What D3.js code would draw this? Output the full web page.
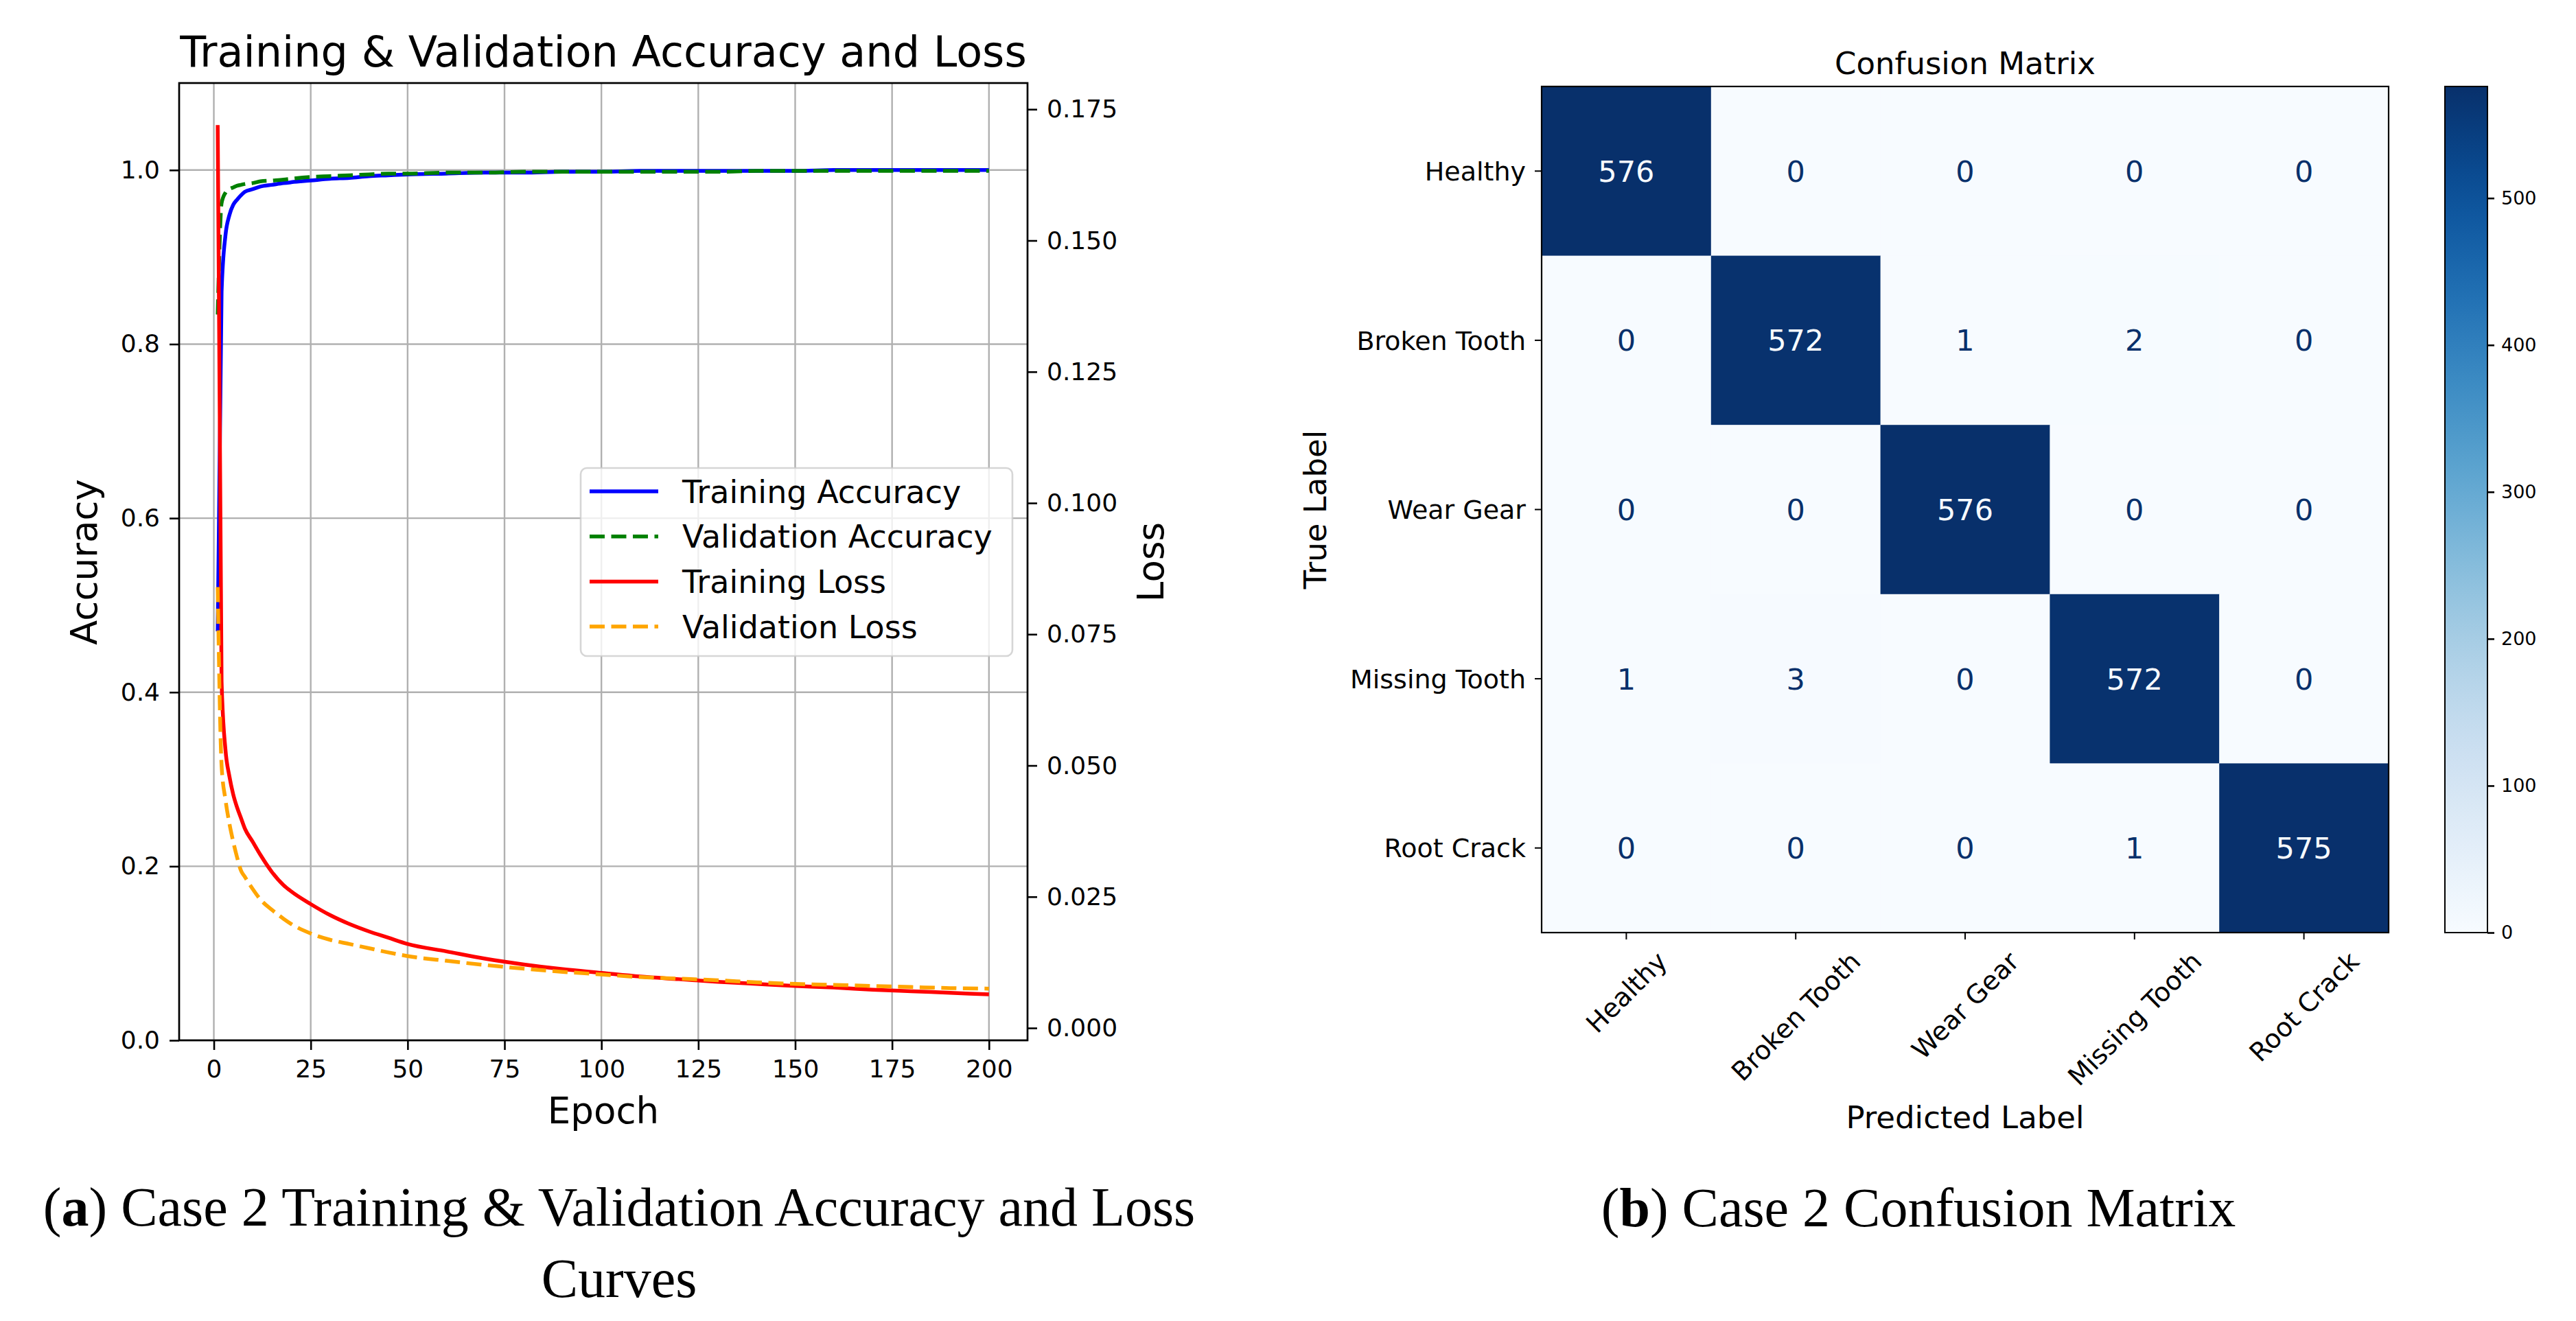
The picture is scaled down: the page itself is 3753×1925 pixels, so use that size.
<!DOCTYPE html>
<html>
<head>
<meta charset="utf-8">
<script src="https://cdn.jsdelivr.net/npm/d3@7"></script>
<style>
  body { margin: 0; background: #fff; }
  svg text { font-family: "DejaVu Sans", sans-serif; fill: #000; }
  svg text.cap { font-family: "Liberation Serif", serif; }
</style>
</head>
<body>
<svg id="fig" width="3753" height="1925"></svg>
<script>
// ---- data ----
const epochs    = [1, 2, 3, 4, 5, 6, 7, 8, 10, 12, 15, 18, 20, 25, 30, 35, 40, 45, 50, 60, 70, 80, 90, 100, 110, 120, 130, 140, 150, 160, 170, 180, 190, 200];
const trainAcc  = [0.47, 0.86, 0.925, 0.948, 0.960, 0.966, 0.971, 0.975, 0.978, 0.981, 0.983, 0.985, 0.986, 0.988, 0.990, 0.991, 0.993, 0.994, 0.995, 0.996, 0.997, 0.997, 0.998, 0.998, 0.999, 0.999, 0.999, 0.999, 0.999, 1.0, 1.0, 1.0, 1.0, 1.0];
const valAcc    = [0.834, 0.962, 0.974, 0.978, 0.980, 0.982, 0.983, 0.984, 0.985, 0.987, 0.988, 0.989, 0.990, 0.992, 0.993, 0.994, 0.995, 0.996, 0.996, 0.997, 0.997, 0.998, 0.998, 0.998, 0.998, 0.998, 0.998, 0.999, 0.999, 0.999, 0.999, 0.999, 0.999, 0.999];
const trainLoss = [0.172, 0.066, 0.053, 0.048, 0.0445, 0.042, 0.040, 0.038, 0.0355, 0.0330, 0.0297, 0.0272, 0.0260, 0.0236, 0.0215, 0.0198, 0.0184, 0.0172, 0.0160, 0.0146, 0.0132, 0.0121, 0.0112, 0.0105, 0.0098, 0.0093, 0.0088, 0.0084, 0.0080, 0.0077, 0.0073, 0.0070, 0.0067, 0.0064];
const valLoss   = [0.084, 0.050, 0.0435, 0.039, 0.0355, 0.0325, 0.0300, 0.0288, 0.0265, 0.0245, 0.0225, 0.0208, 0.0198, 0.0180, 0.0168, 0.0160, 0.0152, 0.0144, 0.0137, 0.0128, 0.0120, 0.0113, 0.0107, 0.0102, 0.0097, 0.0094, 0.0091, 0.0087, 0.0084, 0.0082, 0.0080, 0.0078, 0.0076, 0.0075];

const epochTicks = [0, 25, 50, 75, 100, 125, 150, 175, 200];
const accTicks   = [0, 0.2, 0.4, 0.6, 0.8, 1.0];
const lossTicks  = [0, 0.025, 0.05, 0.075, 0.1, 0.125, 0.15, 0.175];

const classes   = ["Healthy", "Broken Tooth", "Wear Gear", "Missing Tooth", "Root Crack"];
const confusion = [
  [576, 0, 0, 0, 0],
  [0, 572, 1, 2, 0],
  [0, 0, 576, 0, 0],
  [1, 3, 0, 572, 0],
  [0, 0, 0, 1, 575]
];
const cbarTicks = [0, 100, 200, 300, 400, 500];

const svg = d3.select("#fig");

// ================= left: accuracy / loss curves =================
const P = { left: 261, right: 1497, top: 121, bottom: 1516 };

const x = d3.scaleLinear().domain([-8.95, 209.95]).range([P.left, P.right]);
const yAcc = d3.scaleLinear().domain([0, 1.1]).range([P.bottom, P.top]);
const yLoss = d3.scaleLinear().domain([-0.00235, 0.18]).range([P.bottom, P.top]);

const left = svg.append("g");

// grid
const grid = left.append("g").attr("stroke", "#b0b0b0").attr("stroke-width", 2.4);
grid.selectAll("line.gx").data(epochTicks).enter().append("line")
  .attr("x1", d => x(d)).attr("x2", d => x(d))
  .attr("y1", P.top).attr("y2", P.bottom);
grid.selectAll("line.gy").data(accTicks).enter().append("line")
  .attr("x1", P.left).attr("x2", P.right)
  .attr("y1", d => yAcc(d)).attr("y2", d => yAcc(d));

// clip
svg.append("defs").append("clipPath").attr("id", "plotclip")
  .append("rect").attr("x", P.left).attr("y", P.top)
  .attr("width", P.right - P.left).attr("height", P.bottom - P.top);

const series = [
  { name: "Training Accuracy",   values: trainAcc,  scale: yAcc,  color: "#0000ff", dash: null },
  { name: "Validation Accuracy", values: valAcc,    scale: yAcc,  color: "#008000", dash: "22,9.5" },
  { name: "Training Loss",       values: trainLoss, scale: yLoss, color: "#ff0000", dash: null },
  { name: "Validation Loss",     values: valLoss,   scale: yLoss, color: "#ffa500", dash: "22,9.5" }
];

const lines = left.append("g").attr("clip-path", "url(#plotclip)");
series.forEach(s => {
  const line = d3.line()
    .x((d, i) => x(epochs[i]))
    .y(d => s.scale(d))
    .curve(d3.curveMonotoneX);
  lines.append("path")
    .datum(s.values)
    .attr("d", line)
    .attr("fill", "none")
    .attr("stroke", s.color)
    .attr("stroke-width", 5.5)
    .attr("stroke-dasharray", s.dash);
});

// axes
function styleAxis(g, size) {
  g.select(".domain").remove();
  g.selectAll(".tick line").attr("stroke", "#000").attr("stroke-width", 2.6);
  g.selectAll(".tick text").attr("font-size", size).attr("font-family", "DejaVu Sans").attr("fill", "#000");
}

left.append("g")
  .attr("transform", `translate(${P.left},0)`)
  .call(d3.axisLeft(yAcc).tickValues(accTicks).tickFormat(d3.format(".1f")).tickSize(14).tickPadding(14))
  .call(g => styleAxis(g, 36));

left.append("g")
  .attr("transform", `translate(${P.right},0)`)
  .call(d3.axisRight(yLoss).tickValues(lossTicks).tickFormat(d3.format(".3f")).tickSize(14).tickPadding(14))
  .call(g => styleAxis(g, 36));

left.append("g")
  .attr("transform", `translate(0,${P.bottom})`)
  .call(d3.axisBottom(x).tickValues(epochTicks).tickFormat(d3.format("d")).tickSize(14).tickPadding(14))
  .call(g => styleAxis(g, 36));

// spines
left.append("rect")
  .attr("x", P.left).attr("y", P.top)
  .attr("width", P.right - P.left).attr("height", P.bottom - P.top)
  .attr("fill", "none").attr("stroke", "#000").attr("stroke-width", 2.7);

// legend
const L = { x: 846, y: 682, w: 629, h: 274, row0: 716, step: 65.7 };
const legend = left.append("g");
legend.append("rect")
  .attr("x", L.x).attr("y", L.y).attr("width", L.w).attr("height", L.h)
  .attr("rx", 9).attr("ry", 9)
  .attr("fill", "#fff").attr("fill-opacity", 0.8)
  .attr("stroke", "#cccccc").attr("stroke-opacity", 0.8).attr("stroke-width", 2.6);
series.forEach((s, i) => {
  const yy = L.row0 + i * L.step;
  legend.append("line")
    .attr("x1", 859).attr("x2", 959).attr("y1", yy).attr("y2", yy)
    .attr("stroke", s.color).attr("stroke-width", 5.5)
    .attr("stroke-dasharray", s.dash);
  legend.append("text")
    .attr("x", 994).attr("y", yy).attr("dy", "0.36em")
    .attr("font-size", 46)
    .text(s.name);
});

// titles / labels
left.append("text").attr("x", (P.left + P.right) / 2).attr("y", 97)
  .attr("text-anchor", "middle").attr("font-size", 62)
  .text("Training & Validation Accuracy and Loss");
left.append("text").attr("x", (P.left + P.right) / 2).attr("y", 1637)
  .attr("text-anchor", "middle").attr("font-size", 53).text("Epoch");
left.append("text").attr("transform", "translate(141,819) rotate(-90)")
  .attr("text-anchor", "middle").attr("font-size", 53).text("Accuracy");
left.append("text").attr("transform", "translate(1695,819) rotate(-90)")
  .attr("text-anchor", "middle").attr("font-size", 53).text("Loss");

// ================= right: confusion matrix =================
const M = { left: 2246, right: 3480, top: 126, bottom: 1359 };
const cx = d3.scaleBand().domain(d3.range(classes.length)).range([M.left, M.right]);
const cy = d3.scaleBand().domain(d3.range(classes.length)).range([M.top, M.bottom]);
const vmax = d3.max(confusion.flat());
const color = d3.scaleSequential(d3.interpolateBlues).domain([0, vmax]);

const right = svg.append("g");
const cells = [];
confusion.forEach((row, r) => row.forEach((v, c) => cells.push({ r, c, v })));

right.selectAll("rect.cell").data(cells).enter().append("rect")
  .attr("x", d => cx(d.c)).attr("y", d => cy(d.r))
  .attr("width", cx.bandwidth() + 0.5).attr("height", cy.bandwidth() + 0.5)
  .attr("fill", d => color(d.v));

right.selectAll("text.val").data(cells).enter().append("text")
  .attr("x", d => cx(d.c) + cx.bandwidth() / 2)
  .attr("y", d => cy(d.r) + cy.bandwidth() / 2)
  .attr("dy", "0.36em").attr("text-anchor", "middle")
  .attr("font-size", 43)
  .style("fill", d => d.v > vmax / 2 ? color(0) : color(vmax))
  .text(d => d.v);

right.append("rect")
  .attr("x", M.left).attr("y", M.top)
  .attr("width", M.right - M.left).attr("height", M.bottom - M.top)
  .attr("fill", "none").attr("stroke", "#000").attr("stroke-width", 2.2);

// y ticks
right.selectAll("line.yt").data(classes).enter().append("line")
  .attr("x1", M.left - 10).attr("x2", M.left)
  .attr("y1", (d, i) => cy(i) + cy.bandwidth() / 2).attr("y2", (d, i) => cy(i) + cy.bandwidth() / 2)
  .attr("stroke", "#000").attr("stroke-width", 2);
right.selectAll("text.yl").data(classes).enter().append("text")
  .attr("x", M.left - 23)
  .attr("y", (d, i) => cy(i) + cy.bandwidth() / 2)
  .attr("dy", "0.36em").attr("text-anchor", "end").attr("font-size", 38)
  .text(d => d);

// x ticks (rotated 45, bbox centred on tick)
right.selectAll("line.xt").data(classes).enter().append("line")
  .attr("x1", (d, i) => cx(i) + cx.bandwidth() / 2).attr("x2", (d, i) => cx(i) + cx.bandwidth() / 2)
  .attr("y1", M.bottom).attr("y2", M.bottom + 10)
  .attr("stroke", "#000").attr("stroke-width", 2);
right.selectAll("text.xl").data(classes).enter().append("text")
  .attr("text-anchor", "middle").attr("dy", "0.36em").attr("font-size", 38)
  .text(d => d)
  .each(function(d, i) {
    const len = this.getComputedTextLength();
    const ext = (len + 0.8 * 38) * Math.SQRT1_2;
    const px = cx(i) + cx.bandwidth() / 2;
    const py = M.bottom + 24 + ext / 2;
    d3.select(this).attr("transform", `translate(${px},${py}) rotate(-45)`);
  });

right.append("text").attr("x", (M.left + M.right) / 2).attr("y", 108)
  .attr("text-anchor", "middle").attr("font-size", 45).text("Confusion Matrix");
right.append("text").attr("x", (M.left + M.right) / 2).attr("y", 1644)
  .attr("text-anchor", "middle").attr("font-size", 45).text("Predicted Label");
right.append("text").attr("transform", `translate(1932,${(M.top + M.bottom) / 2}) rotate(-90)`)
  .attr("text-anchor", "middle").attr("font-size", 45).text("True Label");

// colorbar
const CB = { x: 3562, w: 62 };
const grad = svg.select("defs").append("linearGradient").attr("id", "cbgrad")
  .attr("x1", 0).attr("y1", 1).attr("x2", 0).attr("y2", 0);
d3.range(0, 1.0001, 0.05).forEach(t => {
  grad.append("stop").attr("offset", t).attr("stop-color", d3.interpolateBlues(t));
});
right.append("rect")
  .attr("x", CB.x).attr("y", M.top).attr("width", CB.w).attr("height", M.bottom - M.top)
  .attr("fill", "url(#cbgrad)").attr("stroke", "#000").attr("stroke-width", 2);
const cbScale = d3.scaleLinear().domain([0, vmax]).range([M.bottom, M.top]);
right.append("g")
  .attr("transform", `translate(${CB.x + CB.w},0)`)
  .call(d3.axisRight(cbScale).tickValues(cbarTicks).tickSize(10).tickPadding(10))
  .call(g => styleAxis(g, 27));

// ================= captions =================
const capA = svg.append("text").attr("class", "cap")
  .attr("x", 902).attr("y", 1786).attr("text-anchor", "middle").attr("font-size", 80);
capA.append("tspan").text("(");
capA.append("tspan").attr("font-weight", "bold").text("a");
capA.append("tspan").text(") Case 2 Training & Validation Accuracy and Loss");
svg.append("text").attr("class", "cap")
  .attr("x", 902).attr("y", 1890).attr("text-anchor", "middle").attr("font-size", 80)
  .text("Curves");

const capB = svg.append("text").attr("class", "cap")
  .attr("x", 2795).attr("y", 1787).attr("text-anchor", "middle").attr("font-size", 80);
capB.append("tspan").text("(");
capB.append("tspan").attr("font-weight", "bold").text("b");
capB.append("tspan").text(") Case 2 Confusion Matrix");
</script>
</body>
</html>
